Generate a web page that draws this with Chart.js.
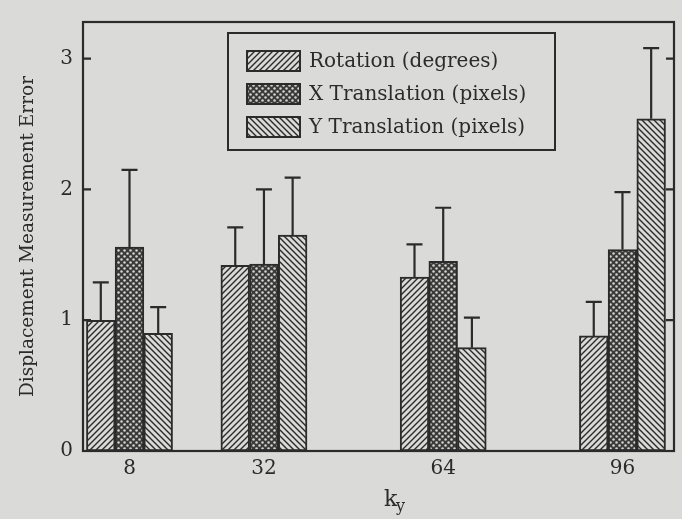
<!DOCTYPE html>
<html>
<head>
<meta charset="utf-8">
<script src="https://cdn.jsdelivr.net/npm/chart.js@4.4.0/dist/chart.umd.min.js"></script>
<style>
  body { margin: 0; background: #dadad8; }
  canvas { display: block; }
</style>
</head>
<body>
<canvas id="chart" width="682" height="519"></canvas>
<script>
// k_y values, bars sit on a linear x axis
const kyValues = [8, 32, 64, 96];
const yTicks = [0, 1, 2, 3];
const seriesNames = ['Rotation (degrees)', 'X Translation (pixels)', 'Y Translation (pixels)'];
// bar heights
const rotation = [1.00, 1.42, 1.33, 0.88];
const xTranslation = [1.56, 1.43, 1.45, 1.54];
const yTranslation = [0.90, 1.65, 0.79, 2.54];
// top of the error bars
const rotationErr = [1.29, 1.71, 1.58, 1.14];
const xTranslationErr = [2.15, 2.00, 1.86, 1.98];
const yTranslationErr = [1.10, 2.09, 1.02, 3.08];

const ink = '#2b2b2b';
const paper = '#dadad8';
const serif = '"DejaVu Serif", "Liberation Serif", serif';

// hatch patterns for the bars
function hatch(dir) {
    const c = document.createElement('canvas');
    c.width = 6; c.height = 6;
    const g = c.getContext('2d');
    g.fillStyle = paper;
    g.fillRect(0, 0, 6, 6);
    g.strokeStyle = ink;
    g.lineWidth = 1.4;
    g.beginPath();
    if (dir > 0) {
        g.moveTo(-1, 7); g.lineTo(7, -1);
        g.moveTo(-4, 4); g.lineTo(4, -4);
        g.moveTo(2, 10); g.lineTo(10, 2);
    } else {
        g.moveTo(-1, -1); g.lineTo(7, 7);
        g.moveTo(-4, 2); g.lineTo(4, 10);
        g.moveTo(2, -4); g.lineTo(10, 4);
    }
    g.stroke();
    return g.createPattern(c, 'repeat');
}
function dots() {
    const c = document.createElement('canvas');
    c.width = 6; c.height = 6;
    const g = c.getContext('2d');
    g.fillStyle = '#3a3a3a';
    g.fillRect(0, 0, 6, 6);
    g.fillStyle = '#d4d4d2';
    [[1.5, 1.5], [4.5, 4.5]].forEach(p => {
        g.beginPath();
        g.arc(p[0], p[1], 1.25, 0, Math.PI * 2);
        g.fill();
    });
    return g.createPattern(c, 'repeat');
}

function points(vals) {
    return vals.map((v, i) => ({ x: kyValues[i], y: v }));
}

const errTops = [rotationErr, xTranslationErr, yTranslationErr];

// error bars drawn from the bar tops
const errorBars = {
    id: 'errorBars',
    afterDatasetsDraw(chart) {
        const ctx = chart.ctx;
        const ys = chart.scales.y;
        ctx.save();
        ctx.strokeStyle = ink;
        ctx.lineWidth = 2.2;
        chart.data.datasets.forEach((ds, di) => {
            chart.getDatasetMeta(di).data.forEach((bar, i) => {
                const top = ys.getPixelForValue(errTops[di][i]);
                ctx.beginPath();
                ctx.moveTo(bar.x, bar.y);
                ctx.lineTo(bar.x, top);
                ctx.moveTo(bar.x - 8, top);
                ctx.lineTo(bar.x + 8, top);
                ctx.stroke();
            });
        });
        ctx.restore();
    }
};

// box frame, inward ticks, legend box and the k_y title
const frame = {
    id: 'frame',
    afterDraw(chart) {
        const ctx = chart.ctx;
        const a = chart.chartArea;
        const ys = chart.scales.y;
        const xs = chart.scales.x;
        ctx.save();
        ctx.strokeStyle = ink;
        ctx.lineWidth = 2.2;
        ctx.strokeRect(a.left, a.top, a.right - a.left, a.bottom - a.top);
        ctx.beginPath();
        yTicks.slice(1).forEach(v => {
            const y = ys.getPixelForValue(v);
            ctx.moveTo(a.left, y); ctx.lineTo(a.left + 8, y);
            ctx.moveTo(a.right, y); ctx.lineTo(a.right - 8, y);
        });
        ctx.stroke();

        // legend
        const lx = 228, ly = 33, lw = 327, lh = 117;
        ctx.lineWidth = 2;
        ctx.strokeRect(lx, ly, lw, lh);
        ctx.font = '20px ' + serif;
        ctx.textBaseline = 'middle';
        ctx.fillStyle = ink;
        chart.data.datasets.forEach((ds, i) => {
            const cy = ly + 28 + i * 33;
            ctx.fillStyle = ds.backgroundColor;
            ctx.fillRect(247, cy - 10, 53, 20);
            ctx.strokeRect(247, cy - 10, 53, 20);
            ctx.fillStyle = ink;
            ctx.fillText(ds.label, 309, cy + 1);
        });

        // x title: k with subscript y
        const cx = 392;
        ctx.font = '22px ' + serif;
        ctx.textBaseline = 'alphabetic';
        ctx.fillText('k', cx - 8, 506);
        ctx.font = '16px ' + serif;
        ctx.fillText('y', cx + 4, 511);
        ctx.restore();
    }
};

const datasets = [
    { label: seriesNames[0], data: points(rotation), backgroundColor: hatch(1) },
    { label: seriesNames[1], data: points(xTranslation), backgroundColor: dots() },
    { label: seriesNames[2], data: points(yTranslation), backgroundColor: hatch(-1) }
].map(d => Object.assign(d, {
    borderColor: ink,
    borderWidth: 2,
    borderSkipped: false,
    barThickness: 28.7
}));

new Chart(document.getElementById('chart'), {
    type: 'bar',
    data: { datasets: datasets },
    options: {
        responsive: false,
        animation: false,
        devicePixelRatio: 1,
        layout: { padding: { left: 0, top: 20, right: 8, bottom: 0 } },
        plugins: {
            legend: { display: false },
            tooltip: { enabled: false }
        },
        scales: {
            x: {
                type: 'linear',
                offset: false,
                min: -0.3,
                max: 105.2,
                grid: { display: false, drawTicks: false },
                border: { display: false },
                afterBuildTicks: s => { s.ticks = kyValues.map(v => ({ value: v })); },
                afterFit: s => { s.height = 68; },
                ticks: {
                    color: ink,
                    padding: 6,
                    font: { family: serif, size: 20 },
                    callback: v => String(v)
                }
            },
            y: {
                min: 0,
                max: 3.28,
                grid: { display: false, drawTicks: false },
                border: { display: false },
                afterBuildTicks: s => { s.ticks = yTicks.map(v => ({ value: v })); },
                afterFit: s => { s.width = 83; },
                ticks: {
                    color: ink,
                    padding: 10,
                    font: { family: serif, size: 20 }
                },
                title: {
                    display: true,
                    text: 'Displacement Measurement Error',
                    color: ink,
                    padding: { top: 17, bottom: 0 },
                    font: { family: serif, size: 18.5 }
                }
            }
        }
    },
    plugins: [errorBars, frame]
});
</script>
</body>
</html>
